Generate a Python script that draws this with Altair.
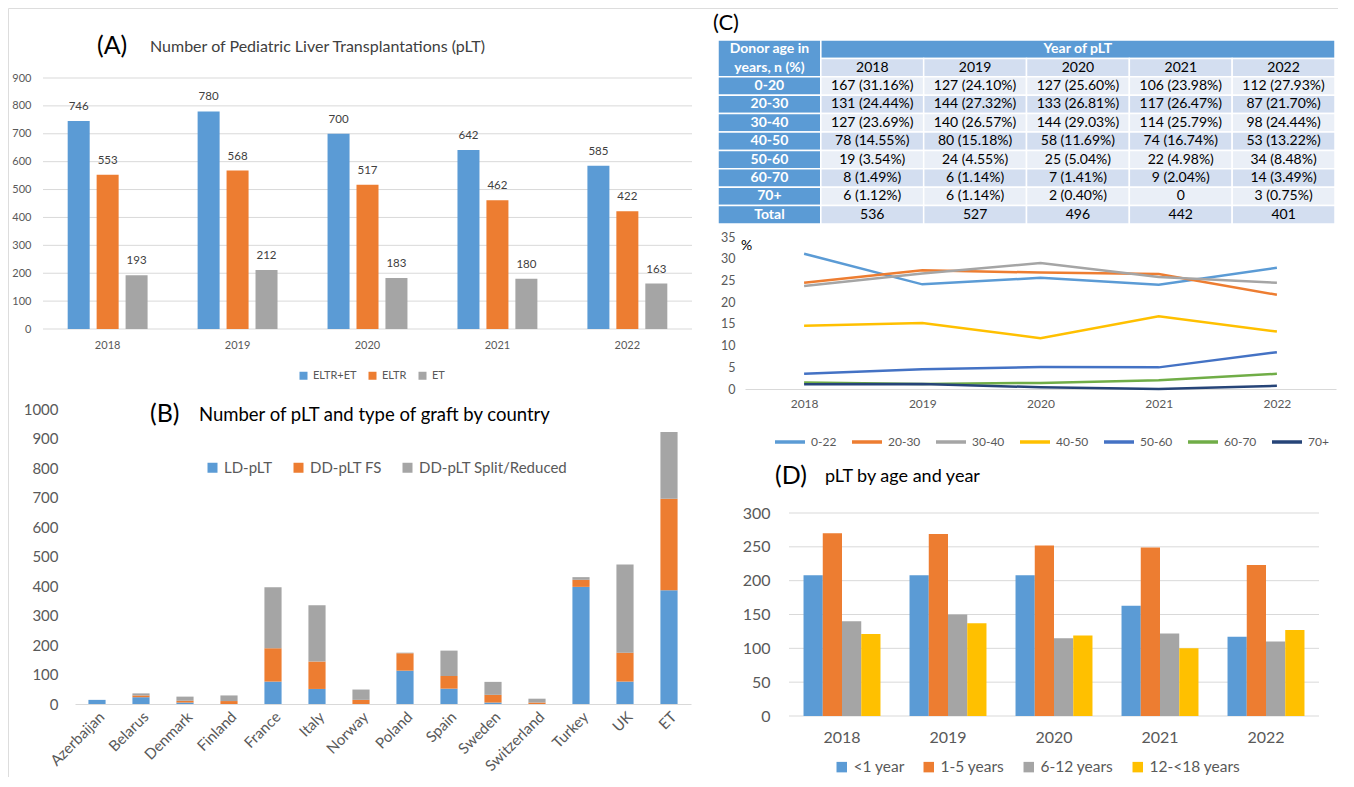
import altair as alt
import pandas as pd

FONT = "Lato"
W, H = 1330, 769
AXC = "#595959"
GRID = "#D9D9D9"

years = ["2018", "2019", "2020", "2021", "2022"]

# ---------------- Panel A ----------------
a_title_tag = "(A)"
a_title = "Number of Pediatric Liver Transplantations (pLT)"
a_series = ["ELTR+ET", "ELTR", "ET"]
a_eltr_et = [746, 780, 700, 642, 585]
a_eltr = [553, 568, 517, 462, 422]
a_et = [193, 212, 183, 180, 163]
a_colors = ["#5B9BD5", "#ED7D31", "#A5A5A5"]
a_ticks = [0, 100, 200, 300, 400, 500, 600, 700, 800, 900]

# ---------------- Panel B ----------------
b_title_tag = "(B)"
b_title = "Number of pLT and type of graft by country"
b_countries = ["Azerbaijan", "Belarus", "Denmark", "Finland", "France", "Italy", "Norway",
               "Poland", "Spain", "Sweden", "Switzerland", "Turkey", "UK", "ET"]
b_series = ["LD-pLT", "DD-pLT FS", "DD-pLT Split/Reduced"]
b_ld = [14, 23, 5, 0, 76, 51, 0, 113, 52, 5, 0, 397, 76, 386]
b_fs = [0, 6, 6, 10, 113, 93, 14, 59, 43, 26, 5, 24, 98, 310]
b_split = [0, 7, 14, 19, 207, 191, 35, 2, 86, 44, 13, 9, 299, 226]
b_colors = ["#5B9BD5", "#ED7D31", "#A5A5A5"]
b_ticks = [0, 100, 200, 300, 400, 500, 600, 700, 800, 900, 1000]

# ---------------- Panel C ----------------
c_title_tag = "(C)"
c_head_left = "Donor age in\nyears, n (%)"
c_head_top = "Year of pLT"
c_groups = ["0-20", "20-30", "30-40", "40-50", "50-60", "60-70", "70+"]
c_line_labels = ["0-22", "20-30", "30-40", "40-50", "50-60", "60-70", "70+"]
c_n_0_20 = [167, 127, 127, 106, 112]
c_n_20_30 = [131, 144, 133, 117, 87]
c_n_30_40 = [127, 140, 144, 114, 98]
c_n_40_50 = [78, 80, 58, 74, 53]
c_n_50_60 = [19, 24, 25, 22, 34]
c_n_60_70 = [8, 6, 7, 9, 14]
c_n_70p = [6, 6, 2, 0, 3]
c_p_0_20 = [31.16, 24.10, 25.60, 23.98, 27.93]
c_p_20_30 = [24.44, 27.32, 26.81, 26.47, 21.70]
c_p_30_40 = [23.69, 26.57, 29.03, 25.79, 24.44]
c_p_40_50 = [14.55, 15.18, 11.69, 16.74, 13.22]
c_p_50_60 = [3.54, 4.55, 5.04, 4.98, 8.48]
c_p_60_70 = [1.49, 1.14, 1.41, 2.04, 3.49]
c_p_70p = [1.12, 1.14, 0.40, 0.0, 0.75]
c_totals = [536, 527, 496, 442, 401]
c_total_label = "Total"
c_line_colors = ["#5B9BD5", "#ED7D31", "#A5A5A5", "#FFC000", "#4472C4", "#70AD47", "#264478"]
c_ticks = [0, 5, 10, 15, 20, 25, 30, 35]
c_unit = "%"

# ---------------- Panel D ----------------
d_title_tag = "(D)"
d_title = "pLT by age and year"
d_series = ["<1 year", "1-5 years", "6-12 years", "12-<18 years"]
d_lt1 = [208, 208, 208, 163, 117]
d_1_5 = [270, 269, 252, 249, 223]
d_6_12 = [140, 150, 115, 122, 110]
d_12_18 = [121, 137, 119, 100, 127]
d_colors = ["#5B9BD5", "#ED7D31", "#A5A5A5", "#FFC000"]
d_ticks = [0, 50, 100, 150, 200, 250, 300]


def ax(orient, offset, size, pad, **kw):
    base = dict(orient=orient, offset=offset, title=None, grid=False, ticks=False,
                labelFont=FONT, labelColor=AXC, labelFontSize=size, labelPadding=pad)
    base.update(kw)
    return alt.Axis(**base)


def legend(x, y, size, sym, colpad, **kw):
    base = dict(orient="none", legendX=x, legendY=y, direction="horizontal", title=None,
                labelFont=FONT, labelColor=AXC, labelFontSize=size, symbolSize=sym,
                columnPadding=colpad, symbolStrokeWidth=0, symbolType="square")
    base.update(kw)
    return alt.Legend(**base)


def label(text, x, y, size, color="#000000", weight="normal"):
    return alt.Chart(pd.DataFrame({"t": [text]})).mark_text(
        font=FONT, fontSize=size, color=color, align="left", baseline="middle", fontWeight=weight
    ).encode(text="t:N", x=alt.value(x), y=alt.value(y))


# ---------- A ----------
dfA = pd.DataFrame([{"year": y, "series": s, "value": v}
                    for s, vals in zip(a_series, [a_eltr_et, a_eltr, a_et])
                    for y, v in zip(years, vals)])
xA_scale = alt.Scale(range=[35, 684], paddingInner=0.385, paddingOuter=0.19)
yA_scale = alt.Scale(domain=[0, 900], range=[321, 70], nice=False)
yA_axis = ax("left", -35, 11, 12, domain=False, values=a_ticks, labelFlush=False, format="d")
gridA = alt.Chart(pd.DataFrame({"value": a_ticks})).mark_rule(color=GRID, strokeWidth=1).encode(
    y=alt.Y("value:Q", scale=yA_scale, axis=yA_axis), x=alt.value(35), x2=alt.value(684))
baseA = alt.Chart(dfA).encode(
    x=alt.X("year:N", sort=years, scale=xA_scale,
            axis=ax("bottom", 321 - H, 11, 10, domain=False, labelAngle=0)),
    xOffset=alt.XOffset("series:N", sort=a_series, scale=alt.Scale(paddingInner=0.24, paddingOuter=0)),
    y=alt.Y("value:Q", scale=yA_scale, axis=yA_axis),
)
barsA = baseA.mark_bar().encode(
    color=alt.Color("series:N", sort=a_series, scale=alt.Scale(domain=a_series, range=a_colors),
                    legend=legend(290, 362, 11, 64, 10)))
textA = baseA.mark_text(dy=-9, baseline="bottom", font=FONT, fontSize=11.5, color="#404040").encode(
    text="value:Q")
panelA = alt.layer(gridA, barsA, textA)

# ---------- B ----------
rowsB = []
for k, (s, vals) in enumerate(zip(b_series, [b_ld, b_fs, b_split])):
    for c, v in zip(b_countries, vals):
        rowsB.append({"country": c, "series": s, "value": v, "k": k})
dfB = pd.DataFrame(rowsB)
panelB = alt.Chart(dfB).mark_bar().encode(
    x=alt.X("country:N", sort=b_countries,
            scale=alt.Scale(range=[67, 683], paddingInner=0.61, paddingOuter=0.305),
            axis=ax("bottom", 696 - H, 15, 5, domain=True, domainColor=GRID, labelAngle=-45)),
    y=alt.Y("value:Q", stack="zero", scale=alt.Scale(domain=[0, 1000], range=[696, 401], nice=False),
            axis=ax("left", -67, 15, 17, domain=False, values=b_ticks, labelFlush=False, format="d")),
    color=alt.Color("series:N", sort=b_series, scale=alt.Scale(domain=b_series, range=b_colors),
                    legend=legend(197, 452, 15, 100, 18)),
    order=alt.Order("k:Q", sort="ascending"),
)

# ---------- C table ----------
BLUE = "#5B9BD5"
DARK = "#D3DEF0"
LIGHT = "#EAEFF7"
cells = []
cells.append({"c0": 0, "c1": 1, "r0": 0, "r1": 2, "fill": BLUE, "txt": c_head_left, "kind": "head2"})
cells.append({"c0": 1, "c1": 6, "r0": 0, "r1": 1, "fill": BLUE, "txt": c_head_top, "kind": "head"})
for j, y in enumerate(years):
    cells.append({"c0": j + 1, "c1": j + 2, "r0": 1, "r1": 2, "fill": DARK, "txt": y, "kind": "body"})
ns = [c_n_0_20, c_n_20_30, c_n_30_40, c_n_40_50, c_n_50_60, c_n_60_70, c_n_70p]
ps = [c_p_0_20, c_p_20_30, c_p_30_40, c_p_40_50, c_p_50_60, c_p_60_70, c_p_70p]
for i, g in enumerate(c_groups):
    r = i + 2
    fill = LIGHT if i % 2 == 0 else DARK
    cells.append({"c0": 0, "c1": 1, "r0": r, "r1": r + 1, "fill": BLUE, "txt": g, "kind": "head"})
    for j in range(5):
        n, p = ns[i][j], ps[i][j]
        t = "0" if n == 0 else f"{n} ({p:.2f}%)"
        cells.append({"c0": j + 1, "c1": j + 2, "r0": r, "r1": r + 1, "fill": fill, "txt": t, "kind": "body"})
cells.append({"c0": 0, "c1": 1, "r0": 9, "r1": 10, "fill": BLUE, "txt": c_total_label, "kind": "head"})
for j in range(5):
    cells.append({"c0": j + 1, "c1": j + 2, "r0": 9, "r1": 10, "fill": DARK, "txt": str(c_totals[j]), "kind": "body"})
dfT = pd.DataFrame(cells)
xT = alt.Scale(domain=[0, 6], range=[710, 1327], nice=False, zero=False)
yT = alt.Scale(domain=[0, 10], range=[32, 216], nice=False, zero=False)
rectT = alt.Chart(dfT).mark_rect(stroke="white", strokeWidth=1.5).encode(
    x=alt.X("c0:Q", scale=xT, axis=None), x2="c1:Q",
    y=alt.Y("r0:Q", scale=yT, axis=None), y2="r1:Q",
    color=alt.Color("fill:N", scale=None))
txtBase = alt.Chart(dfT).transform_calculate(
    xm="(datum.c0 + datum.c1) / 2", ym="(datum.r0 + datum.r1) / 2")
txtEnc = dict(x=alt.X("xm:Q", scale=xT, axis=None), y=alt.Y("ym:Q", scale=yT, axis=None), text="txt:N")
txtHead = txtBase.transform_filter("datum.kind == 'head'").mark_text(
    font=FONT, fontSize=14, fontWeight="bold", color="white", baseline="middle").encode(**txtEnc)
txtHead2 = txtBase.transform_filter("datum.kind == 'head2'").mark_text(
    font=FONT, fontSize=14, fontWeight="bold", color="white", lineBreak="\n", lineHeight=19,
    baseline="middle", dy=-9.5).encode(**txtEnc)
txtBody = txtBase.transform_filter("datum.kind == 'body'").mark_text(
    font=FONT, fontSize=14, color="#000000", baseline="middle").encode(**txtEnc)
panelT = alt.layer(rectT, txtHead, txtHead2, txtBody)

# ---------- C line ----------
dfC = pd.DataFrame([{"year": y, "grp": lab, "pct": p}
                    for lab, vals in zip(c_line_labels, ps)
                    for y, p in zip(years, vals)])
panelC = alt.Chart(dfC).mark_line(strokeWidth=2.5).encode(
    x=alt.X("year:N", sort=years, scale=alt.Scale(type="point", range=[737, 1328], padding=0.5),
            axis=ax("bottom", 381 - H, 12, 9, domain=True, domainColor=GRID, labelAngle=0)),
    y=alt.Y("pct:Q", scale=alt.Scale(domain=[0, 35], range=[381, 229], nice=False),
            axis=ax("left", -737, 12.5, 10, domain=False, values=c_ticks, labelFlush=False)),
    color=alt.Color("grp:N", sort=c_line_labels, scale=alt.Scale(domain=c_line_labels, range=c_line_colors),
                    legend=legend(765, 417, 12, 900, 8, symbolType="stroke", symbolStrokeWidth=3.5)),
)

# ---------- D ----------
dfD = pd.DataFrame([{"year": y, "series": s, "value": v}
                    for s, vals in zip(d_series, [d_lt1, d_1_5, d_6_12, d_12_18])
                    for y, v in zip(years, vals)])
yD_scale = alt.Scale(domain=[0, 300], range=[708, 505], nice=False)
yD_axis = ax("left", -781, 16, 19, domain=False, values=d_ticks, labelFlush=False, format="d")
gridD = alt.Chart(pd.DataFrame({"value": d_ticks})).mark_rule(color=GRID, strokeWidth=1).encode(
    y=alt.Y("value:Q", scale=yD_scale, axis=yD_axis), x=alt.value(781), x2=alt.value(1311))
barsD = alt.Chart(dfD).mark_bar().encode(
    x=alt.X("year:N", sort=years, scale=alt.Scale(range=[781, 1311], paddingInner=0.274, paddingOuter=0.137),
            axis=ax("bottom", 708 - H, 16, 13, domain=False, labelAngle=0)),
    xOffset=alt.XOffset("series:N", sort=d_series, scale=alt.Scale(paddingInner=0, paddingOuter=0)),
    y=alt.Y("value:Q", scale=yD_scale, axis=yD_axis),
    color=alt.Color("series:N", sort=d_series, scale=alt.Scale(domain=d_series, range=d_colors),
                    legend=legend(826, 751, 15.5, 110, 16)),
)
panelD = alt.layer(gridD, barsD)

titles = [
    label(a_title_tag, 89, 38, 25),
    label(a_title, 142, 39, 16, color="#404040"),
    label(b_title_tag, 142, 406, 25),
    label(b_title, 191, 407, 18.5, color="#000000"),
    label(c_title_tag, 705, 15, 22),
    label(c_unit, 733, 238, 14),
    label(d_title_tag, 767, 468, 25),
    label(d_title, 817, 469, 18, color="#000000"),
]

chart = alt.layer(panelA, panelB, panelT, panelC, panelD, *titles).resolve_scale(
    x="independent", y="independent", color="independent", xOffset="independent"
).resolve_axis(x="independent", y="independent").resolve_legend(color="independent").properties(
    width=W, height=H, padding=0, autosize=alt.AutoSizeParams(type="none")
).configure_view(stroke=None).configure(background="white")

chart.save("out.html", embed_options={"renderer": "svg", "actions": False})
